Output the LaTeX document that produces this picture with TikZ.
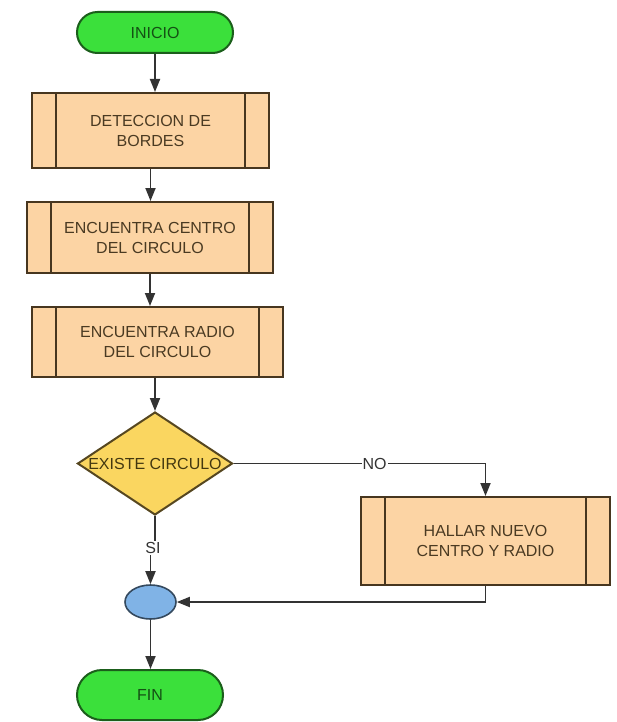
\documentclass[tikz,border=0pt]{standalone}
\usepackage{fontspec}
\setmainfont{Liberation Sans}
\usetikzlibrary{shapes.misc,shapes.geometric,arrows.meta}

\definecolor{termfill}{HTML}{3BE03B}
\definecolor{termline}{HTML}{1B5E1B}
\definecolor{termtext}{HTML}{145014}
\definecolor{procfill}{HTML}{FCD4A4}
\definecolor{procline}{HTML}{47361F}
\definecolor{proctext}{HTML}{4A3A22}
\definecolor{decfill}{HTML}{FAD660}
\definecolor{decline}{HTML}{564720}
\definecolor{dectext}{HTML}{433810}
\definecolor{joinfill}{HTML}{80B3E6}
\definecolor{joinline}{HTML}{34495E}
\definecolor{flowline}{HTML}{333333}

\tikzset{
  txt/.style={font=\fontsize{16}{20}\selectfont, align=center},
  terminal/.style={txt, rounded rectangle, draw=termline, fill=termfill,
    line width=2pt, text=termtext, inner sep=0pt},
  process/.style={txt, rectangle, draw=procline, fill=procfill,
    line width=2pt, text=proctext, inner sep=0pt,
    path picture={
      \draw[procline, line width=2pt]
        ([xshift=24pt]path picture bounding box.north west) --
        ([xshift=24pt]path picture bounding box.south west);
      \draw[procline, line width=2pt]
        ([xshift=-24pt]path picture bounding box.north east) --
        ([xshift=-24pt]path picture bounding box.south east);
    }},
  decision/.style={txt, diamond, draw=decline, fill=decfill,
    line width=2pt, text=dectext, inner sep=0pt},
  junction/.style={ellipse, draw=joinline, fill=joinfill,
    line width=1.6pt, inner sep=0pt},
  arr/.style={draw=flowline, line width=1.8pt,
    -{Triangle[length=13pt,width=10pt]}},
  plain/.style={draw=flowline, line width=1.8pt},
  lbl/.style={txt, fill=white, text=flowline, inner sep=1pt}
}

\begin{document}
\begin{tikzpicture}[x=1pt,y=-1pt]
  \useasboundingbox (0,0) rectangle (617,722);

  % main column
  \node[terminal, minimum width=156pt, minimum height=41pt] (start) at (155,32.5) {INICIO};
  \node[process, minimum width=237pt, minimum height=75pt] (b1) at (150.5,130.5)
    {DETECCION DE\\BORDES};
  \node[process, minimum width=246pt, minimum height=71pt] (b2) at (150,237.5)
    {ENCUENTRA CENTRO\\DEL CIRCULO};
  \node[process, minimum width=251pt, minimum height=70pt] (b3) at (157.5,342)
    {ENCUENTRA RADIO\\DEL CIRCULO};
  \node[decision, minimum width=155pt, minimum height=103pt] (dec) at (155,463.5)
    {\makebox[0pt]{EXISTE CIRCULO}};
  \node[junction, minimum width=51pt, minimum height=34pt] (join) at (150.5,602) {};
  \node[terminal, minimum width=146pt, minimum height=50pt] (end) at (150,695) {FIN};

  % side branch
  \node[process, minimum width=249pt, minimum height=88pt] (b4) at (485.5,541)
    {HALLAR NUEVO\\CENTRO Y RADIO};

  % branch label on the way down
  \node[lbl] (si) at (153,548) {SI};

  % connectors
  \draw[arr] (start.south) -- (start.south |- b1.north);
  \draw[arr] (b1.south) -- (b1.south |- b2.north);
  \draw[arr] (b2.south) -- (b2.south |- b3.north);
  \draw[arr] (b3.south -| dec.north) -- (dec.north);
  \draw[plain] (dec.south) -- (dec.south |- si.north);
  \draw[arr] (si.south -| join.north) -- (join.north);
  \draw[arr] (dec.east) -- node[lbl, pos=0.56] {NO} (dec.east -| b4.north) -- (b4.north);
  \draw[arr] (b4.south) |- (join.east);
  \draw[arr] (join.south) -- (join.south |- end.north);
\end{tikzpicture}
\end{document}
